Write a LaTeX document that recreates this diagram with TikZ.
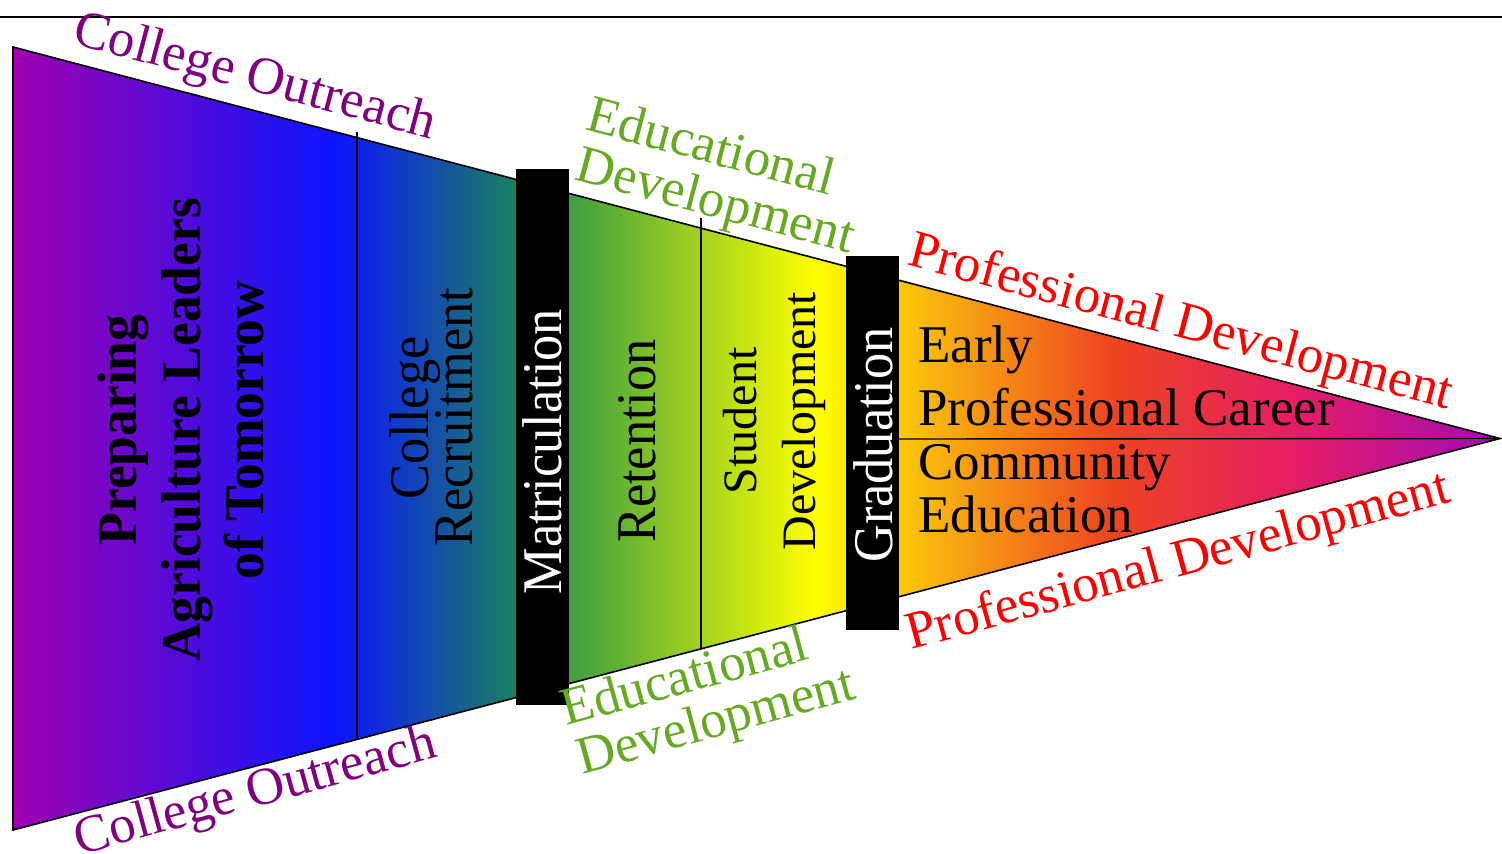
\documentclass[tikz,border=0pt]{standalone}
\usepackage{fontspec}
\setmainfont{Liberation Serif}
\newfontfamily\condfont[FakeStretch=0.935]{Liberation Serif}
\newfontfamily\condbfont[FakeStretch=0.955]{Liberation Serif}
\definecolor{cPurple}{RGB}{160,0,176}
\definecolor{cBlue}{RGB}{12,20,255}
\definecolor{cTeal}{RGB}{26,128,96}
\definecolor{cGreen}{RGB}{64,160,64}
\definecolor{cYellow}{RGB}{255,255,0}
\definecolor{cOrange}{RGB}{239,68,33}
\definecolor{cPink}{RGB}{228,28,104}
\definecolor{cEnd}{RGB}{160,12,180}
\definecolor{txtPurple}{RGB}{128,0,128}
\definecolor{txtGreen}{RGB}{102,170,34}
\definecolor{txtRed}{RGB}{255,0,0}
\pgfdeclarehorizontalshading{funnelshade}{100bp}{color(0bp)=(cPurple); color(25bp)=(cPurple); color(35.83bp)=(cBlue); color(41.91bp)=(cTeal); color(43.8bp)=(cGreen); color(51.97bp)=(cYellow); color(61.89bp)=(cOrange); color(68.27bp)=(cPink); color(75bp)=(cEnd); color(100bp)=(cEnd)}
\newcommand\myBigSize{\fontsize{53}{60}\selectfont}
\newcommand\myVertSize{\condfont\fontsize{56}{60}\selectfont}
\newcommand\myBoldSize{\condbfont\bfseries\fontsize{56}{60}\selectfont}
\newcommand\mySmallVert{\fontsize{48}{56}\selectfont}
\begin{document}
\begin{tikzpicture}[x=1pt,y=-1pt,
  divider/.style={line width=1.4pt, draw=black},
  barbox/.style={fill=black, draw=none, inner sep=0pt, minimum width=53pt},
  vtxt/.style={rotate=90, anchor=base, inner sep=0pt, font=\myVertSize},
  htxt/.style={anchor=base west, inner sep=0pt, font=\myBigSize},
  toplbl/.style={rotate=-14.9, anchor=base, inner sep=0pt, font=\myBigSize},
  botlbl/.style={rotate=15.3, anchor=base, inner sep=0pt, font=\myBigSize}]
\fill[white] (0,0) rectangle (1502,854);
\useasboundingbox (0,0) rectangle (1502,854);
% top rule
\coordinate (ruleL) at (0,17);
\coordinate (ruleR) at (1502,17);
\draw[line width=1.5pt] (ruleL) -- (ruleR);
% funnel
\coordinate (tl) at (13,47);
\coordinate (apex) at (1500,438.5);
\coordinate (bl) at (13,830);
\shadedraw[shading=funnelshade, draw=black, line width=1.6pt] (tl) -- (apex) -- (bl) -- cycle;
% dividers
\coordinate (v1t) at (357,132);
\coordinate (v1b) at (357,739.5);
\coordinate (v2t) at (701,218);
\coordinate (v2b) at (701,649);
\coordinate (hl) at (899,439);
\draw[divider] (v1t) -- (v1b);
\draw[divider] (v2t) -- (v2b);
\draw[divider] (hl) -- (apex);
% bars
\node[barbox, minimum height=536pt] (matbar) at (542.5,437) {};
\node[barbox, minimum height=374pt] (gradbar) at (872.5,443) {};
% vertical texts
\node[vtxt, font=\myBoldSize] (prep1) at (136.7,430) {Preparing};
\node[vtxt, font=\myBoldSize] (prep2) at (200,430) {Agriculture Leaders};
\node[vtxt, font=\myBoldSize] (prep3) at (263.3,430) {of Tomorrow};
\node[vtxt] (rec1) at (428.5,418) {College};
\node[vtxt] (rec2) at (472.5,417) {Recruitment};
\node[vtxt, text=white] (mat) at (561,451.5) {Matriculation};
\node[vtxt] (ret) at (655,441) {Retention};
\node[vtxt, font=\mySmallVert] (sd1) at (756,421) {Student};
\node[vtxt, font=\mySmallVert] (sd2) at (815,421) {Development};
\node[vtxt, text=white] (grad) at (892,445) {Graduation};
% right texts
\node[htxt] (epc1) at (918,362) {Early};
\node[htxt] (epc2) at (918,425) {Professional Career};
\node[htxt] (ce1) at (918,479.5) {Community};
\node[htxt] (ce2) at (918,532) {Education};
% top labels
\node[toplbl, text=txtPurple] (coTop) at (251.5,91) {College Outreach};
\node[toplbl, text=txtGreen] (edTop1) at (707,162.5) {Educational};
\node[toplbl, text=txtGreen] (edTop2) at (711.5,216.5) {Development};
\node[toplbl, text=txtRed] (pdTop) at (1177,337) {Professional Development};
% bottom labels
\node[botlbl, text=txtPurple] (coBot) at (259,806) {College Outreach};
\node[botlbl, text=txtGreen] (edBot1) at (689,692.5) {Educational};
\node[botlbl, text=txtGreen] (edBot2) at (720,736.5) {Development};
\node[botlbl, text=txtRed] (pdBot) at (1182,576) {Professional Development};
\end{tikzpicture}
\end{document}
